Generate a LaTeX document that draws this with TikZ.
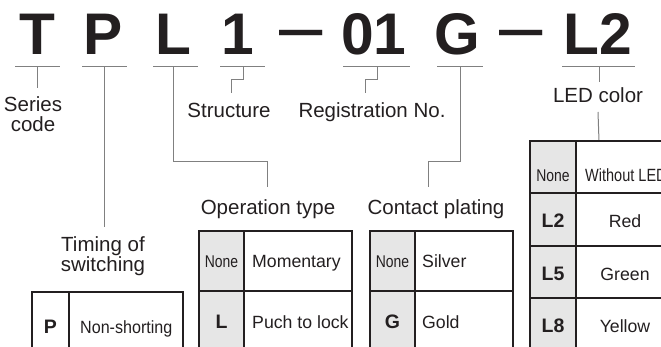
\documentclass[tikz,border=0pt]{standalone}
\usepackage{fontspec}
\setmainfont{Liberation Sans}
\newfontfamily\narrowfont{Liberation Sans}[FakeStretch=0.82]
\newfontfamily\semifont{Liberation Sans}[FakeStretch=0.91]
\newfontfamily\barfont{Liberation Sans}[FakeStretch=0.8]
\usetikzlibrary{positioning}

\definecolor{inkdark}{HTML}{231F20}
\definecolor{rulegray}{HTML}{808080}
\definecolor{cellgray}{HTML}{E6E6E6}

\tikzset{
  codechar/.style={font=\fontsize{58.7}{60}\selectfont\bfseries, text=inkdark, inner sep=0pt, anchor=base},
  codebar/.style={font=\barfont\fontsize{54}{56}\selectfont\bfseries, text=inkdark, inner sep=0pt, anchor=base},
  lbl/.style={font=\fontsize{20.5}{22}\selectfont, text=inkdark, inner sep=0pt, anchor=base},
  conn/.style={draw=rulegray, line width=1pt},
  tabline/.style={draw=inkdark, line width=1.2pt},
  keytxt/.style={font=\fontsize{19.5}{21}\selectfont\bfseries, text=inkdark, inner sep=0pt, anchor=base},
  desctxt/.style={font=\fontsize{17.7}{19}\selectfont, text=inkdark, inner sep=0pt, anchor=base},
  nonetxt/.style={font=\narrowfont\fontsize{17}{18}\selectfont, text=inkdark, inner sep=0pt, anchor=base},
}

\begin{document}
\begin{tikzpicture}[x=1pt,y=-1pt]
  \useasboundingbox (0,0) rectangle (661,347);
  \clip (0,0) rectangle (661,347);

  % model code
  \node[codechar] (cT)  at (37,55)  {T};
  \node[codechar] (cP)  at (103,55) {P};
  \node[codechar] (cL)  at (173,55) {L};
  \node[codechar] (c1)  at (238,55) {1};
  \node[codebar]  (d1)  at (301,47.5) {—};
  \node[codechar] (c01) at (374,55) {01};
  \node[codechar] (cG)  at (457,55) {G};
  \node[codebar]  (d2)  at (521,47.5) {—};
  \node[codechar] (cL2) at (598,55) {L2};

  % underlines
  \coordinate (uT)  at (37.5,67);
  \coordinate (uP)  at (104.5,67);
  \coordinate (uL)  at (173,67);
  \coordinate (u1)  at (243,67);
  \coordinate (u01) at (377,67);
  \coordinate (uG)  at (460,67);
  \coordinate (uL2) at (599,67);
  \draw[conn] (15,67) -- (60,67) (82,67) -- (127,67) (153,67) -- (198,67)
              (220,67) -- (265,67) (343,67) -- (410,67) (437,67) -- (483,67)
              (562,67) -- (635,67);

  % labels
  \node[lbl] (series)   at (33,112)  {Series};
  \node[lbl] (scode)    at (33,132)  {code};
  \node[lbl] (struct)   at (229,118) {Structure};
  \node[lbl] (regno)    at (372,118) {Registration No.};
  \node[lbl] (ledcol)   at (598,103) {LED color};
  \node[lbl] (optype)   at (268,215) {Operation type};
  \node[lbl] (contact)  at (436,215) {Contact plating};
  \node[lbl] (timing)   at (103,252) {Timing of};
  \node[lbl] (timing2)  at (103,272) {switching};

  % connectors
  \coordinate (jStruct)  at (231,93);
  \coordinate (jReg)     at (365,93);
  \coordinate (jOp)      at (267,187);
  \coordinate (jCont)    at (428,187);
  \coordinate (jLedTab)  at (599,141);
  \draw[conn] (uT) -- (uT |- 0,88);
  \draw[conn] (uP) -- (uP |- 0,227);
  \draw[conn] (uL) -- ++(0,95) -| (jOp);
  \draw[conn] (u1) -- ++(0,13) -| (jStruct);
  \draw[conn] (u01) -- ++(0,13) -| (jReg);
  \draw[conn] (uG) -- ++(0,95) -| (jCont);
  \draw[conn] (uL2) -- ++(0,15);
  \draw[conn] ([yshift=-9pt]ledcol.base) -- (jLedTab);

  % timing of switching
  \draw[tabline] (32,360) |- (183,292) -- (183,360);
  \draw[tabline] (69,292) -- (69,360);
  \node[keytxt]  (tP)  at (50.5,333) {P};
  \node[desctxt, anchor=base west] (tPd) at (80,333) {\semifont Non-shorting};

  % operation type
  \fill[cellgray] (199,231) rectangle (244,360);
  \draw[tabline] (199,360) |- (352,231) -- (352,360);
  \draw[tabline] (244,231) -- (244,360) (199,291) -- (352,291);
  \node[nonetxt] (oN)  at (221.5,268) {None};
  \node[desctxt, anchor=base west] (oNd) at (252,268) {Momentary};
  \node[keytxt]  (oL)  at (221.5,328) {L};
  \node[desctxt, anchor=base west] (oLd) at (252,328) {Puch to lock};

  % contact plating
  \fill[cellgray] (370,231) rectangle (415,360);
  \draw[tabline] (370,360) |- (513,231) -- (513,360);
  \draw[tabline] (415,231) -- (415,360) (370,291) -- (513,291);
  \node[nonetxt] (cN)  at (392.5,268) {None};
  \node[desctxt, anchor=base west] (cNd) at (422,268) {Silver};
  \node[keytxt]  (cGk) at (392.5,328) {G};
  \node[desctxt, anchor=base west] (cGd) at (422,328) {Gold};

  % LED color
  \fill[cellgray] (530,141) rectangle (576,360);
  \draw[tabline] (530,360) |- (674,141) -- (674,360);
  \draw[tabline] (576,141) -- (576,360);
  \foreach \yy in {193,246,298} \draw[tabline] (530,\yy) -- (674,\yy);
  \node[nonetxt] (lN)  at (553,182) {None};
  \node[desctxt, anchor=base west] (lNd) at (585,182) {\narrowfont Without LED};
  \node[keytxt]  (l2)  at (553,228) {L2};
  \node[desctxt] (l2d) at (625,228) {Red};
  \node[keytxt]  (l5)  at (553,280) {L5};
  \node[desctxt] (l5d) at (625,280) {Green};
  \node[keytxt]  (l8)  at (553,332) {L8};
  \node[desctxt] (l8d) at (625,332) {Yellow};
\end{tikzpicture}
\end{document}
